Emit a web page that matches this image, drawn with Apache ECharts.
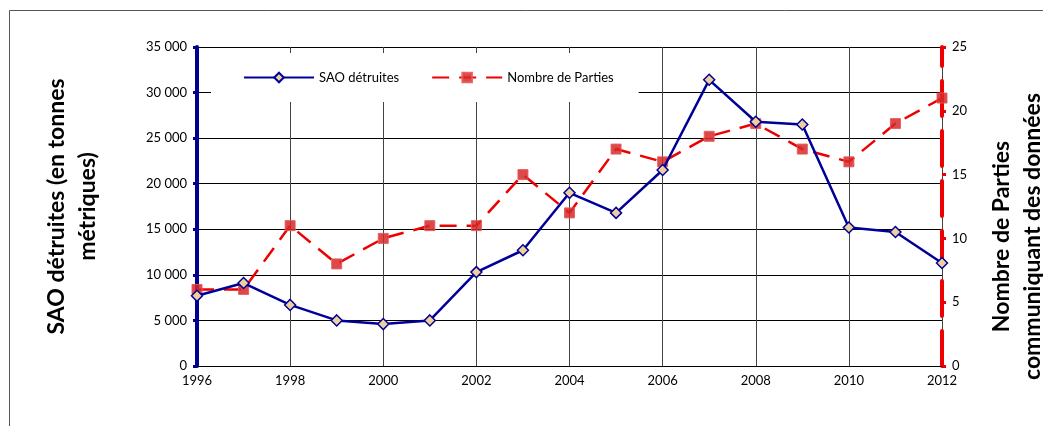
<!DOCTYPE html>
<html><head><meta charset="utf-8">
<script src="https://cdn.jsdelivr.net/npm/echarts@6/dist/echarts.min.js"></script>
<style>html,body{margin:0;padding:0;background:#fff}#c{width:1043px;height:426px}</style>
</head><body><div id="c"></div>
<script>
const years = [1996,1997,1998,1999,2000,2001,2002,2003,2004,2005,2006,2007,2008,2009,2010,2011,2012];
const saoDetruites = [7700,9100,6700,5000,4600,5000,10300,12700,19000,16800,21500,31400,26800,26500,15200,14700,11300];
const nombreParties = [6,6,11,8,10,11,11,15,12,17,16,18,19,17,16,19,21];
const seriesNames = ['SAO détruites','Nombre de Parties'];
const leftTitle = 'SAO détruites (en tonnes\nmétriques)';
const rightTitle = 'Nombre de Parties\ncommuniquant des données';

const FONT = 'Lato';
const chart = echarts.init(document.getElementById('c'));
chart.setOption({
  animation:false,
  textStyle:{fontFamily:FONT},
  graphic:[{type:'rect',shape:{x:9.5,y:10.5,width:1100,height:500},style:{fill:'none',stroke:'#555',lineWidth:1},z:-10}],
  grid:{left:197,right:101,top:47,bottom:60,outerBoundsMode:'none',containLabel:false},
  legend:{
    left:211, top:53, padding:[18,25,18,32], itemGap:32, itemWidth:70, itemHeight:12,
    backgroundColor:'#fff',
    textStyle:{fontFamily:FONT,fontSize:13,color:'#000'},
    data:seriesNames
  },
  xAxis:{
    type:'value', min:1996, max:2012, interval:2,
    axisLine:{lineStyle:{color:'#000',width:1}},
    axisTick:{show:false},
    axisLabel:{color:'#000',fontSize:13,fontFamily:FONT,margin:8,formatter:v=>String(v)},
    splitLine:{show:true,lineStyle:{color:'#444',width:1}}
  },
  yAxis:[{
    type:'value', min:0, max:35000, interval:5000, position:'left',
    name:leftTitle, nameLocation:'middle', nameGap:94, nameRotate:90,
    nameTextStyle:{fontFamily:FONT,fontSize:23,fontWeight:'bold',color:'#000',lineHeight:31},
    axisLine:{show:true,lineStyle:{color:'#000090',width:4}},
    axisTick:{show:true,length:4,lineStyle:{color:'#000090',width:3}},
    axisLabel:{color:'#000',fontSize:13,fontFamily:FONT,margin:10,
      formatter:v=>v===0?'0':String(v).replace(/\B(?=(\d{3})+(?!\d))/g,' ')},
    splitLine:{show:true,lineStyle:{color:'#000',width:1}}
  },{
    type:'value', min:0, max:25, interval:5, position:'right',
    name:rightTitle, nameLocation:'middle', nameGap:44, nameRotate:90,
    nameTextStyle:{fontFamily:FONT,fontSize:23,fontWeight:'bold',color:'#000',lineHeight:31,padding:[0,60,0,0]},
    axisLine:{show:true,lineStyle:{color:'#ee0000',width:4,type:[35,15]}},
    axisTick:{show:true,length:4,lineStyle:{color:'#ee0000',width:3}},
    axisLabel:{color:'#000',fontSize:13,fontFamily:FONT,margin:10},
    splitLine:{show:false}
  }],
  series:[{
    name:seriesNames[0], type:'line', yAxisIndex:0,
    data:years.map((y,i)=>[y,saoDetruites[i]]),
    symbol:'diamond', symbolSize:11,
    lineStyle:{color:'#000099',width:2.5},
    itemStyle:{color:'#F0D09A',borderColor:'#000099',borderWidth:1.5},
    z:3
  },{
    name:seriesNames[1], type:'line', yAxisIndex:1,
    data:years.map((y,i)=>[y,nombreParties[i]]),
    symbol:'rect', symbolSize:10,
    lineStyle:{color:'#ee0000',width:2.5,type:[17,10]},
    itemStyle:{color:'rgba(215,40,40,0.85)',borderColor:'rgba(230,90,90,0.9)',borderWidth:1},
    z:2
  }]
});
</script></body></html>
